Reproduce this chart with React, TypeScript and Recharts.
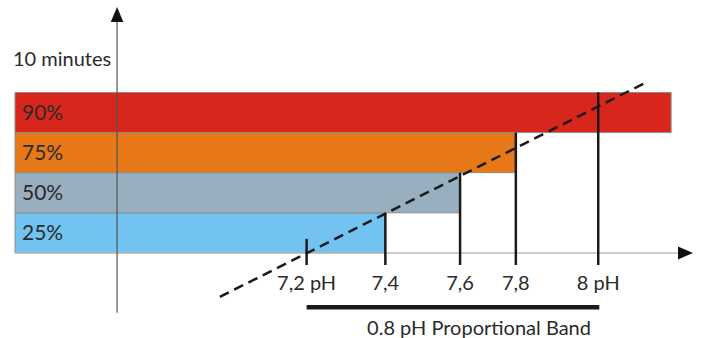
import React from 'react';
import { ComposedChart, XAxis, YAxis, ReferenceArea, ReferenceLine, ReferenceDot, Scatter } from 'recharts';

// pH scale (x) and bar rows (y, one unit per bar row, 0 = x-axis)
const bandLabels = ['25%', '50%', '75%', '90%'];
const bandEnds = [7.416, 7.621, 7.774, 8.2];
const bandColors = ['#72C3EF', '#98AFBF', '#E67817', '#D9261C'];
const bandStart = 6.4;

const markerPH = [7.2, 7.416, 7.621, 7.774, 8.0];
const markerTops = [0.35, 1, 2, 3, 4];
const markerLabels = ['7,2 pH', '7,4', '7,6', '7,8', '8 pH'];

const dashedLine = [
  { x: 6.962, y: -1.096 },
  { x: 8.128, y: 4.236 },
];

const yAxisPH = 6.68;
const bandRange = [7.2, 8.003];
const bandTitle = '0.8 pH Proportional Band';
const yTitle = '10 minutes';

const FONT = 'Lato, sans-serif';
const TEXT = '#2b2b2b';
const FS = 20;
const FS_BAR = 21;

export default function App() {
  return (
    <div style={{ position: 'absolute', left: 0, top: 0, background: '#fff' }}>
      <ComposedChart width={715} height={338} margin={{ top: 7, right: 22, bottom: 0, left: 15 }}>
        <XAxis type="number" dataKey="x" domain={[6.4, 8.26]} hide allowDataOverflow />
        <YAxis type="number" dataKey="y" domain={[-2.12, 6.13]} hide allowDataOverflow />

        {bandLabels.map((lab, i) => (
          <ReferenceArea
            key={lab}
            x1={bandStart}
            x2={bandEnds[i]}
            y1={i}
            y2={i + 1}
            fill={bandColors[i]}
            fillOpacity={1}
            stroke="#8e8e8e"
            strokeWidth={1}
            ifOverflow="visible"
            label={{ value: lab, position: 'insideLeft', offset: 7, fill: TEXT, fontSize: FS_BAR, fontFamily: FONT }}
          />
        ))}

        {/* x axis */}
        <ReferenceLine
          segment={[{ x: bandStart, y: 0 }, { x: 8.22, y: 0 }]}
          stroke="#bdbdbd"
          strokeWidth={1.5}
          ifOverflow="visible"
        />
        <ReferenceDot
          x={8.26}
          y={0}
          ifOverflow="visible"
          shape={(p: any) => (
            <polygon points={`${p.cx},${p.cy} ${p.cx - 15},${p.cy - 6.5} ${p.cx - 15},${p.cy + 6.5}`} fill="#111" />
          )}
        />

        {/* y axis */}
        <ReferenceLine
          segment={[{ x: yAxisPH, y: -1.49 }, { x: yAxisPH, y: 5.8 }]}
          stroke="#555"
          strokeWidth={1.2}
          ifOverflow="visible"
        />
        <ReferenceDot
          x={yAxisPH}
          y={6.13}
          ifOverflow="visible"
          shape={(p: any) => (
            <polygon points={`${p.cx},${p.cy} ${p.cx - 6.3},${p.cy + 15} ${p.cx + 6.3},${p.cy + 15}`} fill="#111" />
          )}
        />
        <ReferenceDot
          x={6.3945}
          y={4.647}
          ifOverflow="visible"
          shape={(p: any) => (
            <text x={p.cx} y={p.cy} textAnchor="start" fontSize={FS} fontFamily={FONT} fill={TEXT}>
              {yTitle}
            </text>
          )}
        />

        {/* markers */}
        {markerPH.map((ph, i) => (
          <ReferenceLine
            key={'m' + i}
            segment={[{ x: ph, y: -0.3 }, { x: ph, y: markerTops[i] }]}
            stroke="#1a1a1a"
            strokeWidth={2.5}
            ifOverflow="visible"
          />
        ))}
        {markerPH.map((ph, i) => (
          <ReferenceDot
            key={'l' + i}
            x={ph}
            y={-0.922}
            ifOverflow="visible"
            shape={(p: any) => (
              <text x={p.cx} y={p.cy} textAnchor="middle" fontSize={FS} fontFamily={FONT} fill={TEXT}>
                {markerLabels[i]}
              </text>
            )}
          />
        ))}

        {/* proportional band */}
        <ReferenceLine
          segment={[{ x: bandRange[0], y: -1.353 }, { x: bandRange[1], y: -1.353 }]}
          stroke="#1a1a1a"
          strokeWidth={4.5}
          ifOverflow="visible"
        />
        <ReferenceDot
          x={7.673}
          y={-2.043}
          ifOverflow="visible"
          shape={(p: any) => (
            <text x={p.cx} y={p.cy} textAnchor="middle" fontSize={FS} fontFamily={FONT} fill={TEXT}>
              {bandTitle}
            </text>
          )}
        />

        <Scatter
          data={dashedLine}
          dataKey="y"
          isAnimationActive={false}
          fill="none"
          line={{ stroke: '#1a1a1a', strokeWidth: 2.5, strokeDasharray: '10 6' }}
          shape={() => <g />}
        />
      </ComposedChart>
    </div>
  );
}
